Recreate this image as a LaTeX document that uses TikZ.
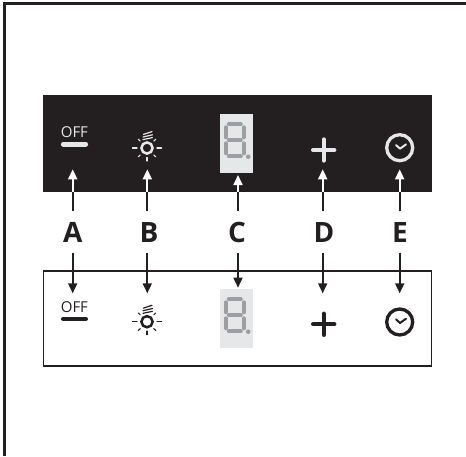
\documentclass[tikz,border=0pt]{standalone}
\usepackage{fontspec}
\setmainfont{Open Sans}
\usepackage{xcolor}
\usetikzlibrary{arrows.meta}
\definecolor{panelblack}{HTML}{231F20}
\definecolor{glyphlight}{HTML}{E6E7E8}
\definecolor{segmentgrey}{HTML}{9C9EA1}
\tikzset{
  letterlabel/.style={font=\fontsize{28}{28}\selectfont\bfseries,text=panelblack,text height=20pt,text depth=0pt,inner xsep=0pt,inner ysep=10.5pt},
  offlabel/.style={font=\fontsize{15}{15}\selectfont,inner sep=0pt,text height=10.5pt,text depth=0pt},
  shaftline/.style={panelblack,line width=1.7pt},
  arrowblack/.style={panelblack,line width=1.7pt,-{Triangle[width=9pt,length=10pt]}},
  arrowwhite/.style={white,line width=1.7pt,-{Triangle[width=9pt,length=10pt]}},
  displaybox/.style={fill=glyphlight,inner sep=0pt,minimum width=33pt,minimum height=58.7pt},
  segment/.style={segmentgrey,line width=4pt,line cap=round}
}
% icons, first argument is the centre, second the colour
\newcommand{\sunicon}[2]{
  \begin{scope}[shift={#1},#2,line cap=round]
    \draw[line width=2.5pt] (0,0) circle (5.6pt);
    \draw[line width=1.1pt] (-14.6,0) -- (-9.9,0);
    \draw[line width=1.1pt] (9.9,0) -- (14.6,0);
    \draw[line width=1.1pt] (0,9.4) -- (0,13);
    \draw[line width=1.1pt] (-8.8,-8.8) -- (-6.8,-6.9);
    \draw[line width=1.1pt] (8.8,-8.8) -- (6.8,-6.9);
    \draw[line width=1.1pt] (-8.8,8.8) -- (-6.8,6.9);
    \draw[line width=1.1pt] (8.8,8.8) -- (6.8,6.9);
    \draw[line width=1.2pt] (-4,-8.4) -- (5.4,-10.4);
    \draw[line width=1.2pt] (-4,-11) -- (5.4,-13.2);
    \draw[line width=1.2pt] (-3.6,-13.6) -- (5,-16.4);
  \end{scope}
}
\newcommand{\plusicon}[2]{
  \begin{scope}[shift={#1},#2,line width=4.2pt,line cap=round]
    \draw (-10.6,0) -- (10.6,0);
    \draw (0,-10.6) -- (0,10.6);
  \end{scope}
}
\newcommand{\clockicon}[2]{
  \begin{scope}[shift={#1},#2]
    \draw[line width=3.3pt] (0,0) circle (13pt);
    \draw[line width=2pt,line cap=round,line join=round] (-3.7,-2.7) -- (0.3,1) -- (6.3,-3.3);
  \end{scope}
}
\newcommand{\digiticon}[1]{
  \begin{scope}[shift={#1}]
    \draw[segment] (-6,-16) -- (6,-16);
    \draw[segment] (-6,0) -- (6,0);
    \draw[segment] (-6,16) -- (6,16);
    \draw[segment] (-8.9,-13) -- (-8.9,-3);
    \draw[segment] (8.9,-13) -- (8.9,-3);
    \draw[segment] (-8.9,3) -- (-8.9,13);
    \draw[segment] (8.9,3) -- (8.9,13);
    \fill[segmentgrey] (13.4,16.4) circle (2.3pt);
  \end{scope}
}
\begin{document}
\begin{tikzpicture}[x=1pt,y=-1pt]
  \useasboundingbox (0,0) rectangle (466,456);
  % outer frame, top and left only
  \draw[panelblack,line width=2.6pt] (4.5,456) -- (4.5,3.5) -- (466,3.5);

  % the two panels
  \node (darkpanel) at (237.5,143.5) [fill=panelblack,inner sep=0pt,minimum width=389pt,minimum height=97pt] {};
  \node (lightpanel) at (237.5,318.5) [draw=panelblack,line width=1.2pt,inner sep=0pt,minimum width=388pt,minimum height=95pt] {};
  \node (darkdisplay) at (236.5,143.4) [displaybox] {};
  \node (lightdisplay) at (236.5,318.4) [displaybox] {};

  % upper row of icons
  \node (darkoff) at (74.4,132.7) [offlabel,text=glyphlight] {OFF};
  \draw[glyphlight,line width=4.6pt,line cap=round] (63.2,144.2) -- (85.8,144.2);
  \sunicon{(147,148)}{glyphlight}
  \digiticon{(234.8,140.3)}
  \plusicon{(323.7,150)}{glyphlight}
  \clockicon{(399.7,147.7)}{glyphlight}

  % lower row of icons
  \node (lightoff) at (74.4,306.8) [offlabel,text=panelblack] {OFF};
  \draw[panelblack,line width=4.4pt,line cap=round] (63.2,318.8) -- (85.8,318.8);
  \sunicon{(147,321.7)}{panelblack}
  \digiticon{(234.8,315.3)}
  \plusicon{(323.7,324.3)}{panelblack}
  \clockicon{(399.7,322)}{panelblack}

  % letters
  \node (labA) at (72.7,232) [letterlabel] {A};
  \node (labB) at (149,232) [letterlabel] {B};
  \node (labC) at (237,232) [letterlabel] {C};
  \node (labD) at (324,232) [letterlabel] {D};
  \node (labE) at (400,232) [letterlabel] {E};

  % arrow ends
  \coordinate (edgeA) at (72.7,192);
  \coordinate (edgeB) at (147.3,192);
  \coordinate (edgeC) at (238,192);
  \coordinate (edgeD) at (322.7,192);
  \coordinate (edgeE) at (399.7,192);
  \coordinate (upA) at (72.7,169.3);
  \coordinate (upB) at (147.3,169.3);
  \coordinate (upC) at (238,175);
  \coordinate (upD) at (322.7,169.3);
  \coordinate (upE) at (399.7,169.3);
  \coordinate (downA) at (72.7,293.3);
  \coordinate (downB) at (147.3,293.3);
  \coordinate (downC) at (238,287.7);
  \coordinate (downD) at (322.7,293.3);
  \coordinate (downE) at (399.7,293.3);

  % arrows to the dark panel
  \draw[shaftline] (labA.north -| edgeA) -- (edgeA);
  \draw[shaftline] (labB.north -| edgeB) -- (edgeB);
  \draw[shaftline] (labC.north -| edgeC) -- (edgeC);
  \draw[shaftline] (labD.north -| edgeD) -- (edgeD);
  \draw[shaftline] (labE.north -| edgeE) -- (edgeE);
  \draw[arrowwhite] (edgeA) -- (upA);
  \draw[arrowwhite] (edgeB) -- (upB);
  \draw[arrowwhite] (edgeC) -- (upC);
  \draw[arrowwhite] (edgeD) -- (upD);
  \draw[arrowwhite] (edgeE) -- (upE);

  % arrows to the light panel
  \draw[arrowblack] (labA.south -| downA) -- (downA);
  \draw[arrowblack] (labB.south -| downB) -- (downB);
  \draw[arrowblack] (labC.south -| downC) -- (downC);
  \draw[arrowblack] (labD.south -| downD) -- (downD);
  \draw[arrowblack] (labE.south -| downE) -- (downE);
\end{tikzpicture}
\end{document}
